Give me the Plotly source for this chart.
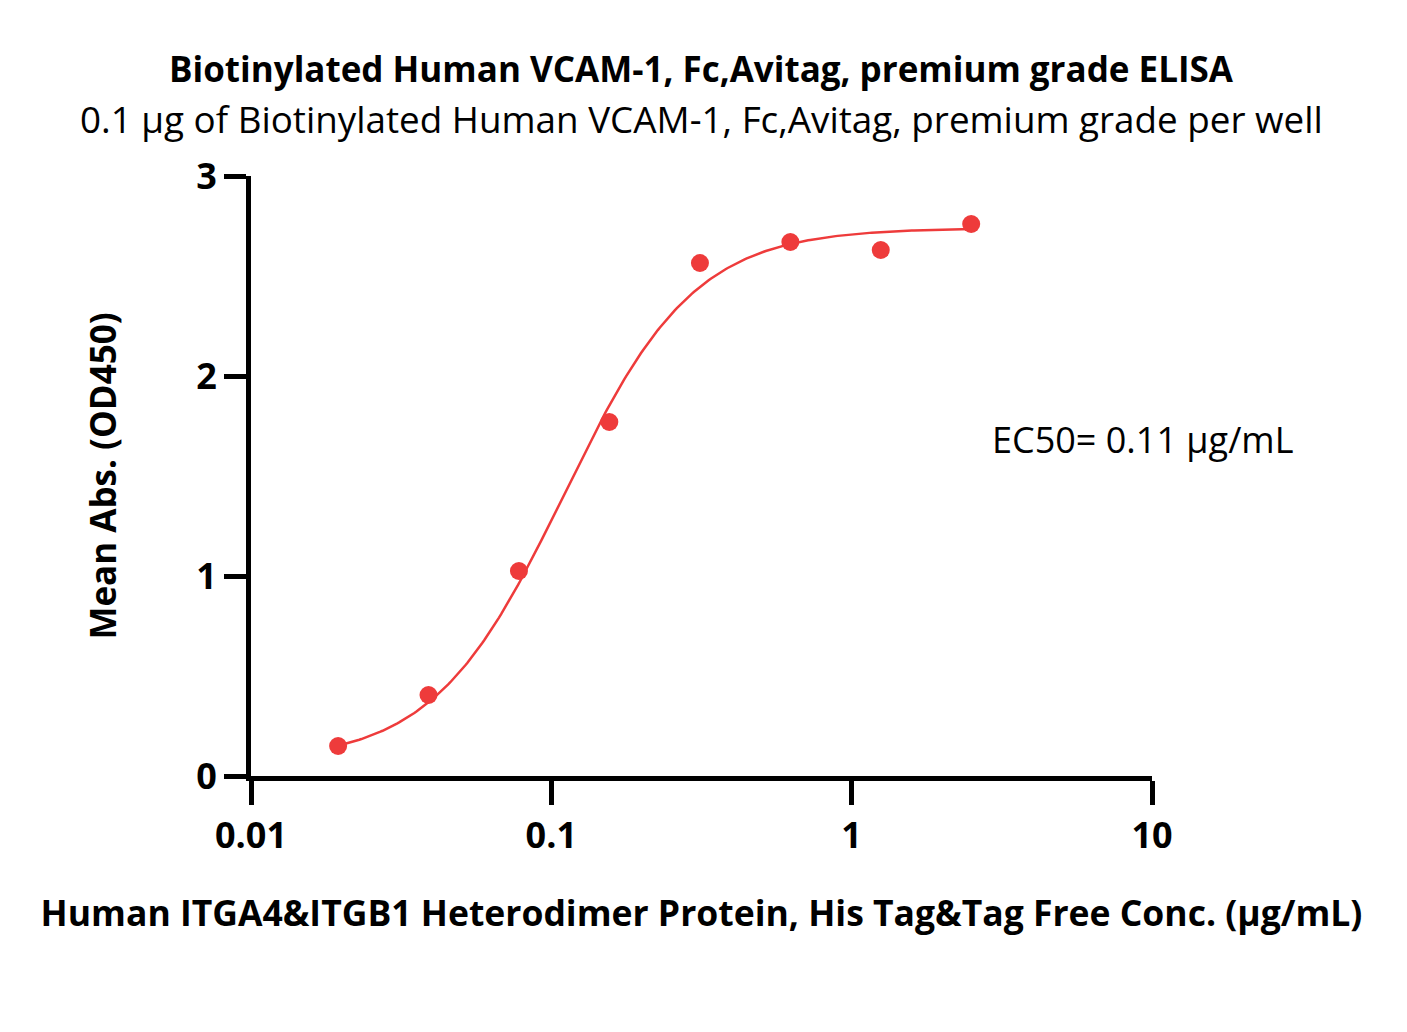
import numpy as np
import plotly.graph_objects as go

# Data
conc = [0.0195, 0.039, 0.078, 0.156, 0.3125, 0.625, 1.25, 2.5]
od450 = [0.15, 0.405, 1.025, 1.77, 2.565, 2.67, 2.63, 2.76]

# 4PL fit parameters (estimated from fitted curve)
fit_bottom = 0.07
fit_top = 2.74
fit_ec50 = 0.11
fit_hill = 2.0

title_line1 = "Biotinylated Human VCAM-1, Fc,Avitag, premium grade ELISA"
title_line2 = "0.1 µg of Biotinylated Human VCAM-1, Fc,Avitag, premium grade per well"
x_title = "Human ITGA4&ITGB1 Heterodimer Protein, His Tag&Tag Free Conc. (µg/mL)"
y_title = "Mean Abs. (OD450)"
ec50_text = "EC50= 0.11 µg/mL"
x_tickvals = [0.01, 0.1, 1, 10]
x_ticktext = ["0.01", "0.1", "1", "10"]
y_tickvals = [0, 1, 2, 3]

red = "#EE3B3B"
font_family = "Open Sans, Lato, Noto Sans, sans-serif"

xfit = np.logspace(np.log10(conc[0]), np.log10(conc[-1]), 300)
yfit = fit_bottom + (fit_top - fit_bottom) / (1 + (fit_ec50 / xfit) ** fit_hill)

fig = go.Figure()
fig.add_trace(go.Scatter(x=xfit, y=yfit, mode="lines",
                         line=dict(color=red, width=2.5), hoverinfo="skip",
                         showlegend=False))
fig.add_trace(go.Scatter(x=conc, y=od450, mode="markers",
                         marker=dict(color=red, size=18), showlegend=False))

fig.update_layout(
    width=1407, height=1032,
    margin=dict(l=251, r=255, t=176, b=256),
    paper_bgcolor="white", plot_bgcolor="white",
    font=dict(family=font_family, color="black"),
    xaxis=dict(type="log", range=[-2, 1], tickvals=x_tickvals, ticktext=x_ticktext,
               showgrid=False, zeroline=False, showline=True, linecolor="black",
               linewidth=5, ticks="outside", ticklen=24, tickwidth=5, tickcolor="black",
               tickfont=dict(size=36, family=font_family, weight="bold"),
               title=dict(text=x_title, font=dict(size=35.5, weight="bold"), standoff=44)),
    yaxis=dict(range=[0, 3], tickvals=y_tickvals, showgrid=False, zeroline=False,
               showline=True, linecolor="black", linewidth=5, ticks="outside",
               ticklen=22, tickwidth=5, tickcolor="black",
               tickfont=dict(size=36, family=font_family, weight="bold"),
               title=dict(text=y_title, font=dict(size=35, weight="bold"), standoff=70)),
    annotations=[
        dict(text="<b>" + title_line1 + "</b>", xref="paper", yref="paper",
             x=0.5, y=1, yshift=108, xanchor="center", yanchor="middle",
             showarrow=False, font=dict(size=35)),
        dict(text=title_line2, xref="paper", yref="paper",
             x=0.5, y=1, yshift=57, xanchor="center", yanchor="middle",
             showarrow=False, font=dict(size=36.8)),
        dict(text=ec50_text, xref="paper", yref="paper",
             x=(990 - 251) / 901, y=(776 - 440) / 600, xanchor="left", yanchor="middle",
             showarrow=False, font=dict(size=36)),
    ],
)

fig.write_html("out.html")
